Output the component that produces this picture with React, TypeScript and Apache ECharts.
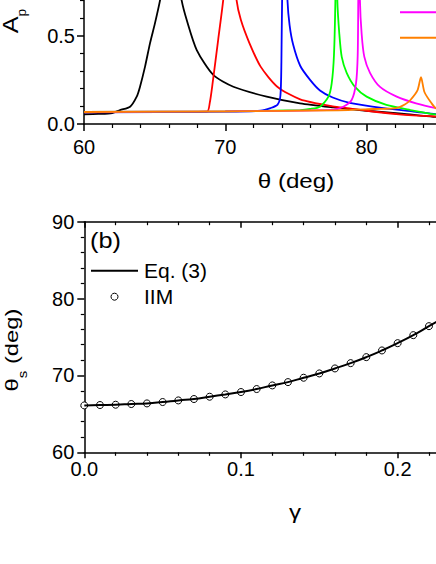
import React, { useEffect, useRef } from "react";
import * as echarts from "echarts";

const FONT = '"Liberation Sans", Arial, Helvetica, sans-serif';

// ---- Panel (a): A_p versus theta (deg) ----
const blackCurve: [number, number][] = [
  [60, 0.055], [61, 0.057], [62, 0.062], [62.55, 0.079], [63.26, 0.098], [63.73, 0.155],
  [63.96, 0.21], [64.32, 0.325], [64.67, 0.457], [65.02, 0.57], [65.38, 0.70], [65.8, 0.9],
  [66.15, 1.0], [66.5, 0.9], [66.91, 0.70], [67.27, 0.589], [67.98, 0.419], [69.15, 0.278],
  [70.57, 0.211], [72.93, 0.155], [75.29, 0.117], [77.64, 0.094], [80, 0.075],
  [82.5, 0.058], [84.72, 0.041], [87, 0.03],
];
const redCurve: [number, number][] = [
  [60, 0.066], [65, 0.068], [68.7, 0.07], [68.9, 0.12], [69.1, 0.23], [69.5, 0.48],
  [69.85, 0.70], [70.1, 0.92], [70.35, 1.1], [70.6, 0.92], [70.8, 0.70], [71.1, 0.59],
  [71.7, 0.46], [72.5, 0.325], [73.7, 0.21], [75.3, 0.14], [77.6, 0.10], [78.8, 0.089],
  [80, 0.075], [82.3, 0.055], [85, 0.042], [87, 0.035],
];
const blueCurve: [number, number][] = [
  [60, 0.066], [70, 0.07], [72.5, 0.075], [73.2, 0.09], [73.7, 0.11], [73.9, 0.16],
  [73.97, 0.35], [74.02, 0.7], [74.2, 1.2], [74.4, 0.7], [74.55, 0.56], [74.8, 0.45],
  [75.3, 0.33], [76.0, 0.25], [76.7, 0.19], [77.6, 0.15], [78.8, 0.12], [81.2, 0.09],
  [83.6, 0.068], [85, 0.055], [87, 0.045],
];
const greenCurve: [number, number][] = [
  [60, 0.068], [70, 0.072], [75.3, 0.079], [76.0, 0.085], [76.7, 0.098], [77.3, 0.155],
  [77.53, 0.23], [77.69, 0.39], [77.79, 0.7], [77.86, 1.2], [77.93, 0.7], [78.07, 0.51],
  [78.24, 0.38], [78.59, 0.29], [79.18, 0.21], [80.0, 0.155], [81.4, 0.108], [83.1, 0.079],
  [84.9, 0.054], [87, 0.045],
];
const magentaCurve: [number, number][] = [
  [60, 0.068], [70, 0.072], [77.6, 0.08], [78.35, 0.098], [78.94, 0.136], [79.25, 0.23],
  [79.37, 0.39], [79.41, 0.7], [79.47, 1.2], [79.53, 0.7], [79.65, 0.51], [79.84, 0.38],
  [80.24, 0.29], [80.95, 0.21], [82.13, 0.155], [83.5, 0.117], [84.9, 0.09], [86, 0.075],
];
const orangeCurve: [number, number][] = [
  [60, 0.068], [70, 0.072], [78, 0.078], [80.5, 0.085], [82.1, 0.09], [82.7, 0.11],
  [83.1, 0.136], [83.6, 0.19], [83.85, 0.265], [84.1, 0.18], [84.6, 0.117], [84.9, 0.09],
  [85.5, 0.08],
];
const panelACurves = [blackCurve, redCurve, blueCurve, greenCurve, magentaCurve, orangeCurve];
const panelAColors = ["#000000", "#ff0000", "#0000ff", "#00ff00", "#ff00ff", "#ff8000"];
const panelALegendColors = ["#ff00ff", "#ff8000"];

const topXTicks = [60, 70, 80];
const topYTicks = [0, 0.5];

// ---- Panel (b): theta_s versus gamma ----
const eqGamma = [0, 0.01, 0.02, 0.03, 0.04, 0.05, 0.06, 0.07, 0.08, 0.09, 0.1, 0.11, 0.12,
  0.13, 0.14, 0.15, 0.16, 0.17, 0.18, 0.19, 0.2, 0.21, 0.22, 0.225];
const eqTheta = [66.1, 66.15, 66.19, 66.28, 66.36, 66.54, 66.75, 66.93, 67.23, 67.53, 67.84,
  68.23, 68.7, 69.13, 69.7, 70.26, 70.91, 71.6, 72.38, 73.25, 74.2, 75.24, 76.41, 77.0];
const iimGamma = [0, 0.01, 0.02, 0.03, 0.04, 0.05, 0.06, 0.07, 0.08, 0.09, 0.1, 0.11, 0.12,
  0.13, 0.14, 0.15, 0.16, 0.17, 0.18, 0.19, 0.2, 0.21, 0.22];
const iimTheta = [66.1, 66.15, 66.19, 66.28, 66.36, 66.54, 66.75, 66.93, 67.23, 67.53, 67.84,
  68.23, 68.7, 69.13, 69.7, 70.26, 70.91, 71.6, 72.38, 73.25, 74.2, 75.24, 76.41];

const botXTicks = [0, 0.1, 0.2];
const botYTicks = [60, 70, 80, 90];
const legendNames = ["Eq. (3)", "IIM"];

const near = (list: number[], v: number) => list.some((t) => Math.abs(t - v) < 1e-9);

const axisCommon = {
  axisLine: { show: true, onZero: false, lineStyle: { color: "#000", width: 1.5 } },
  splitLine: { show: false },
};

export default function App() {
  const ref = useRef<HTMLDivElement>(null);
  useEffect(() => {
    if (!ref.current) return;
    const chart = echarts.init(ref.current, undefined, { renderer: "svg" });

    const labelStyle = { color: "#000", fontSize: 20, fontFamily: FONT };
    const textStyleBase = { fontFamily: FONT, fill: "#000" };

    const option: any = {
      animation: false,
      backgroundColor: "#ffffff",
      textStyle: { fontFamily: FONT },
      grid: [
        { left: 84, top: -87.8, width: 423.9, height: 211.8, outerBoundsMode: "none", containLabel: false },
        { left: 84.3, top: 221.7, width: 470, height: 230.6, outerBoundsMode: "none", containLabel: false },
      ],
      xAxis: [
        {
          gridIndex: 0, type: "value", min: 60, max: 90, interval: 10, ...axisCommon,
          axisTick: { show: true, inside: false, length: 7, lineStyle: { color: "#000", width: 1.5 } },
          minorTick: { show: true, splitNumber: 5, length: 4, lineStyle: { color: "#000", width: 1.2 } },
          axisLabel: { ...labelStyle, margin: 13, formatter: (v: number) => (near(topXTicks, v) ? String(v) : "") },
        },
        {
          gridIndex: 1, type: "value", min: 0, max: 0.3, interval: 0.1, ...axisCommon,
          axisTick: { show: true, inside: false, length: 6, lineStyle: { color: "#000", width: 1.5 } },
          minorTick: { show: true, splitNumber: 5, length: 3.5, lineStyle: { color: "#000", width: 1.2 } },
          axisLabel: { ...labelStyle, margin: 7, formatter: (v: number) => (near(botXTicks, v) ? v.toFixed(1) : "") },
        },
        {
          gridIndex: 1, type: "value", position: "top", min: 0, max: 0.3, interval: 0.1, ...axisCommon,
          axisTick: { show: true, inside: true, length: 6, lineStyle: { color: "#000", width: 1.5 } },
          minorTick: { show: true, splitNumber: 5, length: 3.5, lineStyle: { color: "#000", width: 1.2 } },
          axisLabel: { show: false },
        },
      ],
      yAxis: [
        {
          gridIndex: 0, type: "value", min: 0, max: 1.2, interval: 0.5, ...axisCommon,
          axisTick: { show: true, inside: false, length: 7, lineStyle: { color: "#000", width: 1.5 } },
          minorTick: { show: true, splitNumber: 5, length: 4, lineStyle: { color: "#000", width: 1.2 } },
          axisLabel: { ...labelStyle, margin: 9, formatter: (v: number) => (near(topYTicks, v) ? v.toFixed(1) : "") },
        },
        {
          gridIndex: 1, type: "value", min: 60, max: 90, interval: 10, ...axisCommon,
          axisTick: { show: true, inside: false, length: 7, lineStyle: { color: "#000", width: 1.5 } },
          minorTick: { show: true, splitNumber: 5, length: 3.5, lineStyle: { color: "#000", width: 1.2 } },
          axisLabel: { ...labelStyle, margin: 10, formatter: (v: number) => (near(botYTicks, v) ? String(v) : "") },
        },
      ],
      series: [
        ...panelACurves.map((c, i) => ({
          type: "line",
          name: "a" + i,
          xAxisIndex: 0,
          yAxisIndex: 0,
          data: c,
          symbol: "none",
          showSymbol: false,
          smooth: 0.25,
          clip: true,
          lineStyle: { color: panelAColors[i], width: 1.8 },
          itemStyle: { color: panelAColors[i] },
        })),
        {
          type: "line",
          name: legendNames[0],
          xAxisIndex: 1,
          yAxisIndex: 1,
          data: eqGamma.map((g, i) => [g, eqTheta[i]]),
          symbol: "none",
          showSymbol: false,
          smooth: true,
          lineStyle: { color: "#000", width: 2 },
          itemStyle: { color: "#000" },
        },
        {
          type: "scatter",
          name: legendNames[1],
          xAxisIndex: 1,
          yAxisIndex: 1,
          data: iimGamma.map((g, i) => [g, iimTheta[i]]),
          symbol: "circle",
          symbolSize: 7,
          itemStyle: { color: "#ffffff", borderColor: "#000", borderWidth: 1, opacity: 1 },
        },
      ],
      graphic: [
        // legend swatches of panel (a) (their labels lie beyond the crop)
        ...panelALegendColors.map((col, i) => ({
          type: "line",
          shape: { x1: 400, y1: 12.3 + i * 25.4, x2: 440, y2: 12.3 + i * 25.4 },
          style: { stroke: col, lineWidth: 2 },
        })),
        // legend of panel (b)
        { type: "line", shape: { x1: 91, y1: 270.7, x2: 138, y2: 270.7 }, style: { stroke: "#000", lineWidth: 2 } },
        { type: "circle", shape: { cx: 114.5, cy: 296.7, r: 3.5 }, style: { fill: "#fff", stroke: "#000", lineWidth: 1 } },
        {
          type: "text", x: 144, y: 270.5,
          style: { ...textStyleBase, text: legendNames[0], fontSize: 21, align: "left", verticalAlign: "middle", textAlign: "left", textVerticalAlign: "middle" },
        },
        {
          type: "text", x: 144, y: 296.5,
          style: { ...textStyleBase, text: legendNames[1], fontSize: 21, align: "left", verticalAlign: "middle", textAlign: "left", textVerticalAlign: "middle" },
        },
        {
          type: "text", x: 296, y: 181, scaleX: 1.15,
          style: { ...textStyleBase, text: "θ (deg)", fontSize: 21, align: "center", verticalAlign: "middle", textAlign: "center", textVerticalAlign: "middle" },
        },
        {
          type: "text", x: 295, y: 512, scaleX: 1.15,
          style: { ...textStyleBase, text: "γ", fontSize: 21, align: "center", verticalAlign: "middle", textAlign: "center", textVerticalAlign: "middle" },
        },
        {
          type: "text", x: 90, y: 241, scaleX: 1.15,
          style: { ...textStyleBase, text: "(b)", fontSize: 22, align: "left", verticalAlign: "middle", textAlign: "left", textVerticalAlign: "middle" },
        },
        {
          type: "text", x: 10.6, y: 21, rotation: Math.PI / 2, scaleX: 1.15,
          style: {
            ...textStyleBase,
            text: "{m|A}{s|p}",
            align: "center", verticalAlign: "middle", textAlign: "center", textVerticalAlign: "middle",
            rich: {
              m: { fontSize: 22, fontFamily: FONT, fill: "#000", lineHeight: 16, verticalAlign: "middle" },
              s: { fontSize: 12, fontFamily: FONT, fill: "#000", lineHeight: 16, verticalAlign: "middle", padding: [21.6, 0, 0, 0] },
            },
          },
        },
        {
          type: "text", x: 12, y: 350, rotation: Math.PI / 2, scaleX: 1.25,
          style: {
            ...textStyleBase,
            text: "{m|θ}{s|s}{m| (deg)}",
            align: "center", verticalAlign: "middle", textAlign: "center", textVerticalAlign: "middle",
            rich: {
              m: { fontSize: 19, fontFamily: FONT, fill: "#000", lineHeight: 16, verticalAlign: "middle" },
              s: { fontSize: 12, fontFamily: FONT, fill: "#000", lineHeight: 16, verticalAlign: "middle", padding: [22, 0, 0, 0] },
            },
          },
        },
      ],
    };
    chart.setOption(option);
    return () => chart.dispose();
  }, []);
  return (
    <div
      ref={ref}
      style={{ position: "absolute", left: 0, top: 0, width: 436, height: 564, background: "#fff" }}
    />
  );
}
